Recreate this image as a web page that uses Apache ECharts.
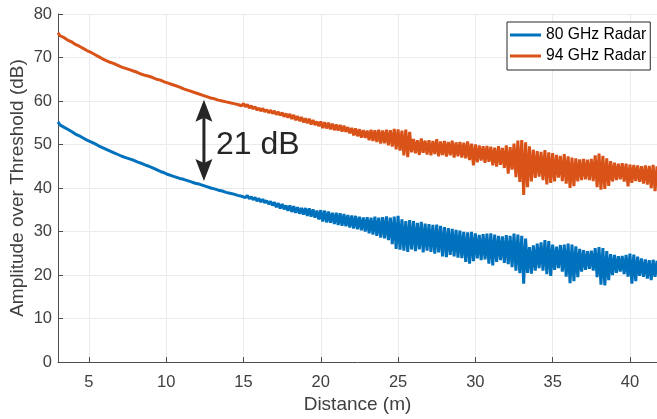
<!DOCTYPE html>
<html>
<head>
<meta charset="utf-8">
<script src="https://cdn.jsdelivr.net/npm/echarts@6/dist/echarts.min.js"></script>
<style>html,body{margin:0;padding:0;background:#fff}#c{width:657px;height:419px}</style>
</head>
<body>
<div id="c"></div>
<script>
// Sampling grid of the distance axis (m)
const distStart = 3, distStep = 0.125;
const seriesNames = ['80 GHz Radar', '94 GHz Radar'];
const xTickValues = [5, 10, 15, 20, 25, 30, 35, 40];
const xRange = [3, 41.75];
const yRange = [0, 80];
// annotation: 21 dB gap at ~12.44 m
const gapX = 12.44, gapTop = 60.3, gapBottom = 41.6, gapLabel = '21 dB';

// 94 GHz radar amplitude (dB), one row per metre
const radar94 = [
75.7,75.0,75.2,74.6,74.7,74.0,74.2,73.6,
73.7,73.0,73.2,72.6,72.7,72.1,72.3,71.6,
71.8,71.2,71.3,70.7,70.8,70.2,70.4,69.7,
69.9,69.3,69.5,68.9,69.1,68.6,68.8,68.2,
68.4,67.8,68.1,67.5,67.8,67.2,67.4,66.9,
67.1,66.6,66.8,66.2,66.5,65.9,66.2,65.7,
65.9,65.4,65.6,65.0,65.3,64.8,65.0,64.4,
64.7,64.1,64.4,63.8,64.1,63.5,63.7,63.2,
63.4,62.8,63.1,62.5,62.8,62.2,62.5,61.9,
62.2,61.6,61.9,61.3,61.6,61.0,61.3,60.7,
61.0,60.5,60.8,60.2,60.5,60.0,60.3,59.8,
60.1,59.6,59.9,59.4,59.7,59.2,59.5,58.9,
59.4,58.7,59.2,58.4,58.9,58.2,58.7,57.9,
58.4,57.7,58.3,57.5,58.0,57.3,57.9,57.1,
57.7,56.9,57.5,56.7,57.3,56.4,57.1,56.2,
57.0,55.9,56.8,55.6,56.5,55.4,56.3,55.1,
56.0,54.9,55.9,54.6,55.6,54.5,55.3,54.2,
55.3,53.8,55.1,53.7,55.0,53.5,54.8,53.3,
54.6,53.2,54.5,53.0,54.3,52.9,54.0,52.6,
53.8,52.1,53.7,51.9,53.5,51.6,53.3,51.5,
53.2,51.0,53.4,50.8,53.3,50.6,53.4,50.2,
53.2,50.3,53.4,49.8,53.3,49.5,53.6,48.9,
53.5,48.6,53.2,47.5,53.4,47.1,52.9,48.2,
51.3,48.0,51.0,47.6,51.4,48.1,50.9,47.7,
51.0,47.5,50.8,47.8,51.2,47.3,50.7,47.6,
50.8,47.2,50.6,47.5,50.9,47.0,50.5,47.3,
50.6,47.0,50.4,46.8,50.7,46.4,50.2,45.2,
50.0,45.9,49.8,46.3,49.6,45.8,49.7,46.0,
49.5,45.2,49.3,44.9,49.6,45.3,49.2,44.6,
49.8,43.3,49.4,44.2,50.2,42.5,50.9,41.4,
51.0,38.4,50.5,40.2,49.6,41.5,48.8,42.3,
48.5,42.6,48.3,41.8,48.7,40.8,48.2,41.2,
48.0,41.5,47.6,42.4,47.4,41.6,47.8,41.0,
47.3,40.0,47.0,40.4,46.8,41.5,46.6,41.8,
46.7,42.0,46.5,41.8,46.7,41.6,47.5,40.2,
47.9,39.6,47.4,39.8,46.8,40.5,46.2,41.5,
45.8,41.8,45.6,42.0,45.7,41.5,45.6,40.4,
45.4,41.2,45.3,41.6,45.2,41.4,45.0,41.0,
45.2,40.8,45.1,40.0,45.3,39.3,45.0
];

// 80 GHz radar amplitude (dB), one row per metre
const radar80 = [
55.2,54.5,54.7,54.0,54.2,53.5,53.6,53.0,
53.1,52.4,52.6,52.0,52.1,51.5,51.7,51.0,
51.2,50.6,50.8,50.2,50.3,49.7,49.9,49.3,
49.5,48.9,49.1,48.5,48.7,48.1,48.3,47.7,
47.9,47.3,47.6,47.0,47.2,46.7,46.9,46.4,
46.6,46.0,46.3,45.7,45.9,45.3,45.6,45.0,
45.2,44.6,44.8,44.2,44.4,43.8,44.1,43.5,
43.7,43.1,43.4,42.8,43.1,42.5,42.8,42.2,
42.5,42.0,42.2,41.7,41.9,41.4,41.7,41.1,
41.4,40.9,41.1,40.6,40.8,40.3,40.6,40.0,
40.3,39.8,40.1,39.5,39.8,39.3,39.6,39.0,
39.3,38.8,39.1,38.6,38.9,38.3,38.6,38.1,
38.5,37.8,38.3,37.5,38.0,37.3,37.8,37.0,
37.6,36.8,37.4,36.6,37.1,36.3,36.9,36.0,
36.7,35.6,36.5,35.3,36.3,35.1,36.0,34.8,
36.0,34.5,35.8,34.3,35.6,34.1,35.4,33.9,
35.4,33.6,35.3,33.4,35.1,33.2,34.8,32.8,
34.9,32.3,34.8,32.1,34.6,32.0,34.3,31.7,
34.3,31.5,34.2,31.3,34.0,31.2,33.8,30.9,
33.7,30.7,33.6,30.5,33.4,30.3,33.2,30.0,
33.3,29.6,33.2,29.3,33.4,29.0,33.2,28.6,
33.3,28.4,33.5,28.0,33.2,27.1,33.4,26.0,
33.6,25.8,32.8,25.6,32.4,25.3,32.6,25.9,
32.4,25.5,32.0,25.9,32.2,25.2,31.8,25.6,
31.7,25.3,31.5,24.9,31.6,25.2,31.3,24.3,
31.0,24.1,30.8,24.6,30.6,24.3,30.4,24.0,
30.2,23.9,29.9,23.0,29.8,22.6,29.9,23.2,
29.6,23.8,29.2,23.4,29.4,23.6,29.5,22.6,
29.6,22.2,29.3,23.0,29.0,23.4,28.9,22.8,
29.2,22.5,29.0,21.8,29.5,21.0,29.3,20.4,
29.0,18.0,28.4,20.5,26.4,20.3,26.8,21.0,
27.2,21.6,27.5,21.0,28.0,20.2,27.8,19.8,
27.0,21.2,26.5,21.6,26.9,20.8,27.0,19.6,
27.2,18.1,27.0,18.6,26.6,19.5,26.0,20.8,
25.7,21.2,25.5,21.4,25.6,21.0,26.2,19.5,
26.4,17.8,26.2,17.6,25.5,18.8,24.8,20.0,
24.6,20.5,24.3,20.8,24.4,20.2,24.6,19.6,
24.9,18.0,24.7,18.6,24.2,19.8,23.8,19.6,
23.6,19.2,23.4,18.8,23.5,19.6,23.3
];

const colors = ['#0072BD', '#D95319'];
const FONT = '"Liberation Sans", Arial, Helvetica, sans-serif';
const TXT = '#404040';

function toPairs(vals) {
  return vals.map((v, i) => [distStart + i * distStep, v]);
}

const chart = echarts.init(document.getElementById('c'), null, {renderer: 'canvas'});
chart.setOption({
  animation: false,
  backgroundColor: '#ffffff',
  textStyle: {fontFamily: FONT},
  grid: {left: 58, right: 0, top: 14, bottom: 57, containLabel: false, outerBoundsMode: 'none'},
  legend: {
    orient: 'vertical',
    left: 507, top: 22,
    data: seriesNames,
    backgroundColor: '#ffffff',
    borderColor: '#262626', borderWidth: 1, borderRadius: 0,
    padding: [5, 4, 6, 3],
    itemGap: 5,
    itemWidth: 31, itemHeight: 3,
    icon: 'rect',
    textStyle: {fontFamily: FONT, fontSize: 15.7, color: '#000'}
  },
  xAxis: {
    type: 'value', min: xRange[0], max: xRange[1],
    name: 'Distance (m)', nameLocation: 'middle', nameGap: 33, nameMoveOverlap: false,
    nameTextStyle: {fontFamily: FONT, fontSize: 19, color: TXT},
    axisLine: {show: true, lineStyle: {color: '#4d4d4d', width: 1}},
    axisTick: {show: true, inside: true, length: 5, customValues: xTickValues, lineStyle: {color: '#4d4d4d'}},
    axisLabel: {customValues: xTickValues, fontFamily: FONT, fontSize: 16.5, color: TXT, margin: 12},
    splitLine: {show: true, lineStyle: {color: '#ebebeb', width: 1}}
  },
  yAxis: {
    type: 'value', min: yRange[0], max: yRange[1], interval: 10,
    name: 'Amplitude over Threshold (dB)', nameLocation: 'middle', nameGap: 31, nameMoveOverlap: false,
    nameTextStyle: {fontFamily: FONT, fontSize: 19, color: TXT},
    axisLine: {show: true, lineStyle: {color: '#4d4d4d', width: 1}},
    axisTick: {show: true, inside: true, length: 5, lineStyle: {color: '#4d4d4d'}},
    axisLabel: {fontFamily: FONT, fontSize: 16.5, color: TXT, margin: 6},
    splitLine: {show: true, lineStyle: {color: '#ebebeb', width: 1}}
  },
  series: [
    {name: seriesNames[0], type: 'line', data: toPairs(radar80), showSymbol: false, symbol: 'none',
     lineStyle: {color: colors[0], width: 3}, itemStyle: {color: colors[0]}, z: 3},
    {name: seriesNames[1], type: 'line', data: toPairs(radar94), showSymbol: false, symbol: 'none',
     lineStyle: {color: colors[1], width: 3}, itemStyle: {color: colors[1]}, z: 3}
  ]
});

// annotation arrow + label from data coordinates
const pT = chart.convertToPixel({gridIndex: 0}, [gapX, gapTop]);
const pB = chart.convertToPixel({gridIndex: 0}, [gapX, gapBottom]);
const hw = 8.5, hl = 22, notch = 4;
const AC = '#262626';
chart.setOption({
  graphic: [
    {type: 'line', shape: {x1: pT[0], y1: pT[1] + hl - notch, x2: pB[0], y2: pB[1] - hl + notch},
     style: {stroke: AC, lineWidth: 3}, z: 10},
    {type: 'polygon', shape: {points: [[pT[0], pT[1]], [pT[0] + hw, pT[1] + hl], [pT[0], pT[1] + hl - notch], [pT[0] - hw, pT[1] + hl]]},
     style: {fill: AC}, z: 10},
    {type: 'polygon', shape: {points: [[pB[0], pB[1]], [pB[0] + hw, pB[1] - hl], [pB[0], pB[1] - hl + notch], [pB[0] - hw, pB[1] - hl]]},
     style: {fill: AC}, z: 10},
    {type: 'text', x: pT[0] + 12, y: (pT[1] + pB[1]) / 2 + 5,
     style: {text: gapLabel, font: '32px ' + FONT, fill: AC, textVerticalAlign: 'middle', textAlign: 'left'}, z: 10}
  ]
});
</script>
</body>
</html>
